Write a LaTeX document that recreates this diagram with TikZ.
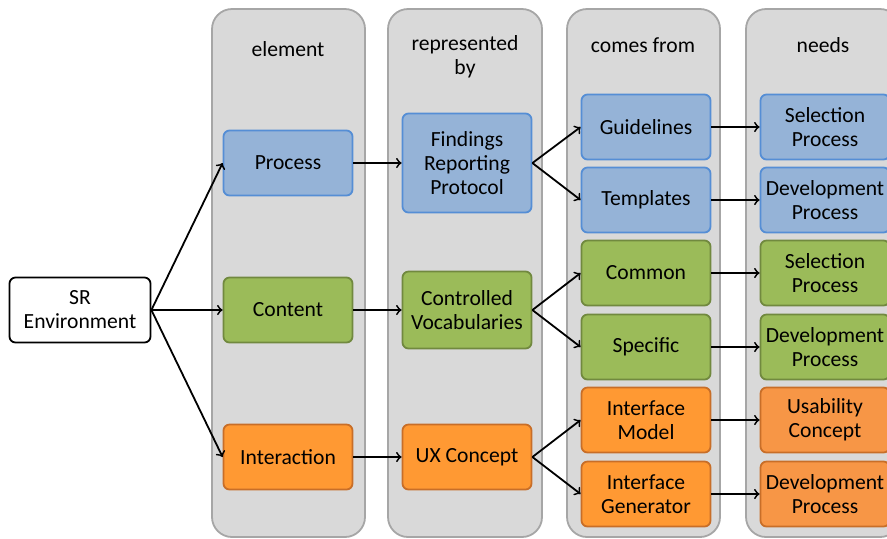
\documentclass[tikz,border=0pt]{standalone}
\usepackage{fontspec}
\setmainfont{Carlito}
\definecolor{colfill}{RGB}{217,217,217}
\definecolor{colline}{RGB}{166,166,166}
\definecolor{bluefill}{RGB}{149,179,215}
\definecolor{blueline}{RGB}{85,142,213}
\definecolor{greenfill}{RGB}{155,187,89}
\definecolor{greenline}{RGB}{113,137,63}
\definecolor{orangefill}{RGB}{255,153,51}
\definecolor{orangeline}{RGB}{200,110,40}
\definecolor{peachfill}{RGB}{247,150,70}
\begin{document}
\begin{tikzpicture}[x=0.5pt,y=-0.5pt]
\tikzset{col/.style = {draw=colline,fill=colfill,line width=0.9pt,rounded corners=10pt}}
\tikzset{lbl/.style = {align=center,font=\fontsize{10.8}{12}\selectfont}}
\tikzset{box/.style = {draw,line width=0.9pt,rounded corners=3pt,minimum width=64.5pt,minimum height=32.5pt,align=center,inner sep=1pt,font=\fontsize{10.8}{12}\selectfont}}
\tikzset{blue/.style = {box,fill=bluefill,draw=blueline}}
\tikzset{green/.style = {box,fill=greenfill,draw=greenline}}
\tikzset{orange/.style = {box,fill=orangefill,draw=orangeline}}
\tikzset{peach/.style = {box,fill=peachfill,draw=orangeline}}
\tikzset{edge/.style = {->,line width=0.9pt}}
\useasboundingbox (0,0) rectangle (887,538);
\clip (0,0) rectangle (887,538);
% columns
\draw[col] (212,9) rectangle (365,537);
\draw[col] (388,9) rectangle (542,537);
\draw[col] (567,9) rectangle (720,537);
\draw[col] (746,9) rectangle (900,537);
\node[lbl] (h1) at (288,49) {element};
\node[lbl] (h2) at (465,57) {represented\\by};
\node[lbl] (h3) at (643,45) {comes from};
\node[lbl] (h4) at (823,45) {needs};
% nodes
\node[box,fill=white,draw=black,minimum width=70.5pt] (sr) at (80,310) {SR\\Environment};
\node[blue] (proc) at (288,163) {Process};
\node[green] (cont) at (288,310) {Content};
\node[orange] (inter) at (288,457) {Interaction};
\node[blue,minimum height=49.5pt] (frp) at (467,163) {Findings\\Reporting\\Protocol};
\node[green,minimum height=38.5pt] (cv) at (467,310) {Controlled\\Vocabularies};
\node[orange] (ux) at (467,457) {UX Concept};
\node[blue] (guide) at (646,127) {Guidelines};
\node[blue] (templ) at (646,200) {Templates};
\node[green] (common) at (646,273) {Common};
\node[green] (spec) at (646,347) {Specific};
\node[orange] (imodel) at (646,420) {Interface\\Model};
\node[orange] (igen) at (646,494) {Interface\\Generator};
\node[blue] (sel1) at (825,127) {Selection\\Process};
\node[blue] (dev1) at (825,200) {Development\\Process};
\node[green] (sel2) at (825,273) {Selection\\Process};
\node[green] (dev2) at (825,347) {Development\\Process};
\node[peach] (usab) at (825,420) {Usability\\Concept};
\node[peach] (dev3) at (825,494) {Development\\Process};
% connectors
\draw[edge] (sr.east) -- (proc.west);
\draw[edge] (sr.east) -- (cont.west);
\draw[edge] (sr.east) -- (inter.west);
\draw[edge] (proc) -- (frp);
\draw[edge] (cont) -- (cv);
\draw[edge] (inter) -- (ux);
\draw[edge] (frp.east) -- (guide.west);
\draw[edge] (frp.east) -- (templ.west);
\draw[edge] (cv.east) -- (common.west);
\draw[edge] (cv.east) -- (spec.west);
\draw[edge] (ux.east) -- (imodel.west);
\draw[edge] (ux.east) -- (igen.west);
\draw[edge] (guide) -- (sel1);
\draw[edge] (templ) -- (dev1);
\draw[edge] (common) -- (sel2);
\draw[edge] (spec) -- (dev2);
\draw[edge] (imodel) -- (usab);
\draw[edge] (igen) -- (dev3);
\end{tikzpicture}
\end{document}
